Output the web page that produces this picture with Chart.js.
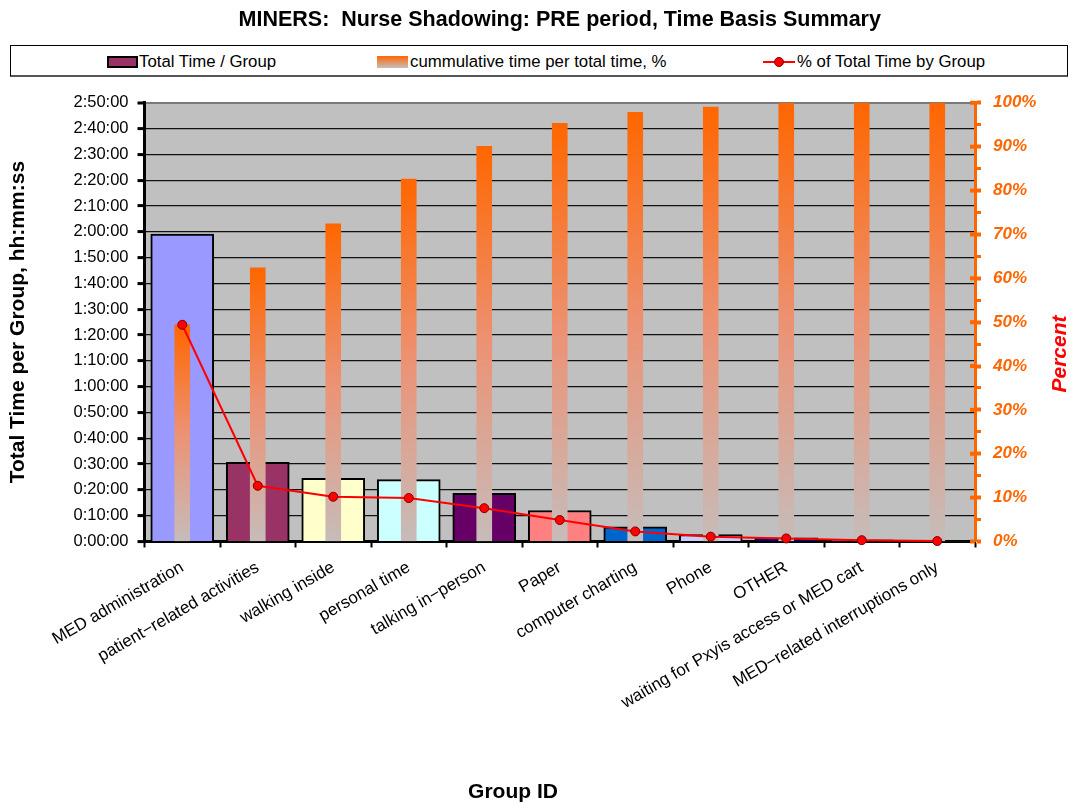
<!DOCTYPE html>
<html>
<head>
<meta charset="utf-8">
<script src="https://cdn.jsdelivr.net/npm/chart.js@4.4.1/dist/chart.umd.min.js"></script>
<style>
html,body{margin:0;padding:0;background:#fff;}
#wrap{position:relative;width:1073px;height:803px;font-family:"Liberation Sans",Arial,sans-serif;overflow:hidden;}
#chart{position:absolute;left:0;top:0;}
.lgbox{position:absolute;left:10px;top:45px;width:1058px;height:32px;border:1px solid #000;border-bottom:2px solid #555;box-sizing:border-box;background:#fff;}
.lt{position:absolute;top:52px;font-size:16.8px;line-height:20px;color:#000;white-space:nowrap;}
.sw1{position:absolute;left:107px;top:56px;width:31px;height:12px;background:#993366;border:2px solid #000;box-sizing:border-box;}
.sw2{position:absolute;left:377px;top:56px;width:31px;height:12px;background:linear-gradient(#FF6600,#C8BCBA);}
.sw3{position:absolute;left:763px;top:61px;width:32px;height:2px;background:#FF0000;}
.sw3d{position:absolute;left:774px;top:57px;width:10px;height:10px;border-radius:50%;background:#FF0000;border:1px solid #800000;box-sizing:border-box;}
</style>
</head>
<body>
<div id="wrap">
  <canvas id="chart" width="1073" height="803"></canvas>
  <div class="lgbox"></div>
  <div class="sw1"></div><div class="lt" id="lg0" style="left:139px"></div>
  <div class="sw2"></div><div class="lt" id="lg1" style="left:410px"></div>
  <div class="sw3"></div><div class="sw3d"></div><div class="lt" id="lg2" style="left:797px"></div>
</div>
<script>
// ---- data ----
const titleText = 'MINERS:  Nurse Shadowing: PRE period, Time Basis Summary';
const categories = [
  'MED administration',
  'patient\u2212related activities',
  'walking inside',
  'personal time',
  'talking in\u2212person',
  'Paper',
  'computer charting',
  'Phone',
  'OTHER',
  'waiting for Pxyis access or MED cart',
  'MED\u2212related interruptions only'
];
const totalTime = ['1:59:05','0:30:40','0:24:30','0:24:00','0:18:40','0:12:00','0:05:40','0:02:40','0:01:25','0:00:40','0:00:10'];
const cumulativePct = [49.4, 62.4, 72.4, 82.6, 90.1, 95.3, 97.8, 99.0, 99.9, 100, 100];
const pctOfTotal = [49.4, 12.7, 10.2, 9.9, 7.6, 4.9, 2.3, 1.1, 0.7, 0.3, 0.1];
const timeTicks = ['0:00:00','0:10:00','0:20:00','0:30:00','0:40:00','0:50:00','1:00:00','1:10:00','1:20:00','1:30:00','1:40:00','1:50:00','2:00:00','2:10:00','2:20:00','2:30:00','2:40:00','2:50:00'];
const percentTicks = ['0%','10%','20%','30%','40%','50%','60%','70%','80%','90%','100%'];
const legendLabels = ['Total Time / Group', 'cummulative time per total time, %', '% of Total Time by Group'];
const yTitle = 'Total Time per Group, hh:mm:ss';
const y2Title = 'Percent';
const xTitle = 'Group ID';
const barColors = ['#9999FF','#993366','#FFFFCC','#CCFFFF','#660066','#FF8080','#0066CC','#CCCCFF','#000080','#FF00FF','#FFFF00'];

// ---- helpers ----
const toSec = s => { const p = s.split(':').map(Number); return p[0]*3600 + p[1]*60 + p[2]; };
const totalSec = totalTime.map(toSec);
const FONT = '"Liberation Sans", Arial, sans-serif';
Chart.defaults.font.family = FONT;

document.getElementById('lg0').textContent = legendLabels[0];
document.getElementById('lg1').textContent = legendLabels[1];
document.getElementById('lg2').textContent = legendLabels[2];

function cumGradient(c) {
  const chart = c.chart;
  const sc = chart.scales && chart.scales.y2;
  if (!chart.chartArea || !sc || c.type !== 'data') return '#FF6600';
  const top = sc.getPixelForValue(c.raw);
  const bot = sc.getPixelForValue(0);
  const g = chart.ctx.createLinearGradient(0, top, 0, bot);
  g.addColorStop(0, '#FF6600');
  g.addColorStop(0.5, '#EC9274');
  g.addColorStop(1, '#C6BCBA');
  return g;
}

const extras = {
  id: 'extras',
  beforeDraw(chart) {
    const {ctx, chartArea: a} = chart;
    ctx.save();
    ctx.fillStyle = '#C0C0C0';
    ctx.fillRect(a.left, a.top, a.right - a.left, a.bottom - a.top);
    ctx.restore();
  },
  afterDraw(chart) {
    const ctx = chart.ctx;
    const a = chart.chartArea;
    const sc = chart.scales.y2;
    ctx.save();
    // major ticks of the percent axis also reach inside the plot
    ctx.strokeStyle = '#FF6600';
    ctx.lineWidth = 4;
    sc.ticks.forEach((t, i) => {
      if (i % 2 !== 0) return;
      const y = sc.getPixelForValue(t.value);
      ctx.beginPath(); ctx.moveTo(a.right - 5, y); ctx.lineTo(a.right, y); ctx.stroke();
    });
    ctx.fillStyle = '#000';
    ctx.textAlign = 'center';
    ctx.textBaseline = 'middle';
    ctx.font = 'bold 21px ' + FONT;
    ctx.fillText(xTitle, 513, 792);
    ctx.translate(1060, 354);
    ctx.rotate(-Math.PI / 2);
    ctx.font = 'italic bold 21px ' + FONT;
    ctx.fillStyle = '#FF0000';
    ctx.fillText(y2Title, 0, 0);
    ctx.restore();
  }
};

new Chart(document.getElementById('chart'), {
  type: 'bar',
  data: {
    labels: categories,
    datasets: [
      {
        type: 'line', label: legendLabels[2], data: pctOfTotal, yAxisID: 'y2',
        borderColor: '#FF0000', borderWidth: 2, tension: 0,
        pointRadius: 4.5, pointBackgroundColor: '#FF0000', pointBorderColor: '#800000', pointBorderWidth: 1,
        order: 0, clip: false
      },
      {
        type: 'bar', label: legendLabels[1], data: cumulativePct, yAxisID: 'y2',
        backgroundColor: cumGradient, borderWidth: 0, barThickness: 15, grouped: false, order: 1
      },
      {
        type: 'bar', label: legendLabels[0], data: totalSec, yAxisID: 'y',
        backgroundColor: barColors, borderColor: '#000', borderWidth: 2,
        barThickness: 63, grouped: false, order: 2
      }
    ]
  },
  options: {
    responsive: false,
    animation: false,
    devicePixelRatio: 1,
    layout: { padding: { left: 0, right: 0, top: 0, bottom: 0 } },
    plugins: {
      legend: { display: false },
      tooltip: { enabled: false },
      title: {
        display: true, text: titleText, fullSize: false, color: '#000',
        font: { size: 21.5, weight: 'bold' }, padding: { top: 7, bottom: 70 }
      }
    },
    scales: {
      x: {
        type: 'category',
        ticks: { maxRotation: 30, minRotation: 30, autoSkip: false, color: '#000', font: { size: 17 }, padding: 10 },
        grid: { drawOnChartArea: false, offset: true, tickColor: '#000', tickWidth: 2, tickLength: 6 },
        border: { color: '#000', width: 3 },
        afterFit(s) { s.height = 261.5; }
      },
      y: {
        position: 'left', min: 0, max: 10200,
        ticks: {
          stepSize: 600, autoSkip: false, color: '#000', font: { size: 16.5 }, padding: 9,
          callback: (v, i) => timeTicks[i]
        },
        grid: {
          color: c => (c.tick && c.tick.value === 10200) ? '#7a7a7a' : '#111',
          lineWidth: c => (c.tick && c.tick.value === 10200) ? 2 : 1.2,
          tickColor: '#000', tickWidth: 3, tickLength: 7
        },
        border: { color: '#000', width: 3 },
        title: { display: true, text: yTitle, color: '#000', font: { size: 21, weight: 'bold' }, padding: { top: 6, bottom: 0 } },
        afterFit(s) { s.width = 144.5; }
      },
      y2: {
        position: 'right', min: 0, max: 100,
        ticks: {
          stepSize: 5, autoSkip: false, color: '#FF6600', padding: 12,
          font: { size: 17, weight: 'bold', style: 'italic' },
          callback: (v, i) => (i % 2 === 0 ? percentTicks[i / 2] : '')
        },
        grid: {
          drawOnChartArea: false, tickColor: '#FF6600',
          tickWidth: c => (c.index % 2 === 0 ? 4 : 3), tickLength: 6
        },
        border: { color: '#FF6600', width: 3 },
        afterFit(s) { s.width = 98; }
      }
    }
  },
  plugins: [extras]
});
</script>
</body>
</html>
